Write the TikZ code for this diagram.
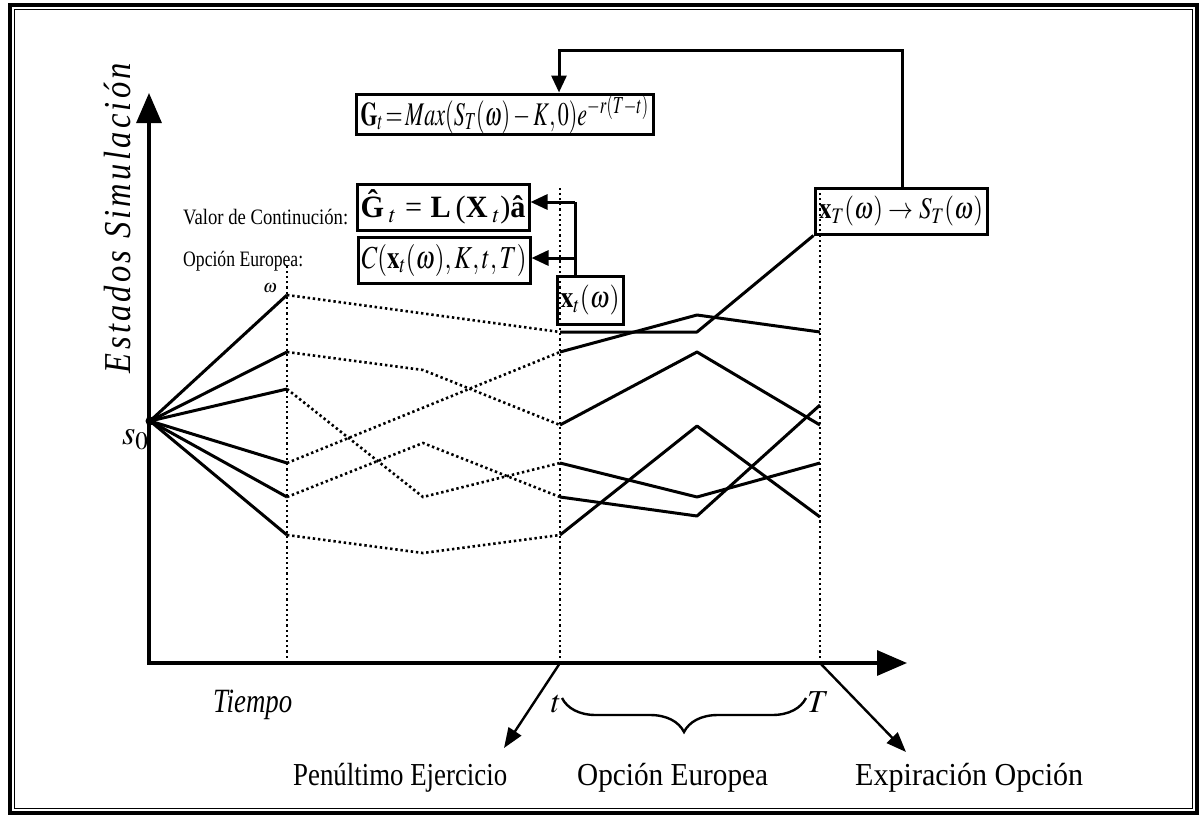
\documentclass[tikz,border=0pt]{standalone}
\usepackage{mathptmx}
\usepackage{fontspec}
\setmainfont{Liberation Serif}
\newfontfamily\spacedfont[LetterSpace=10]{Liberation Serif}
\usetikzlibrary{arrows.meta,decorations.pathreplacing}

% scale a piece of text horizontally so that it is #1 pt wide
\newlength\fitlen
\newcommand\fitto[2]{\settowidth{\fitlen}{#2}\pgfmathsetmacro\fitfac{#1/\fitlen}\scalebox{\fitfac}[1]{#2}}

\tikzset{
  walk/.style={line width=3pt, line join=round},
  dots/.style={line width=2.6pt, dash pattern=on 2.4pt off 2.8pt},
  vdots/.style={line width=2.4pt, dash pattern=on 2.2pt off 3pt},
  framebox/.style={draw, line width=3pt, inner sep=0pt},
  axes/.style={line width=3.2pt, {Triangle[length=30pt,width=25pt]}-{Triangle[length=30pt,width=25pt]}},
  feed/.style={line width=3pt, -{Triangle[length=17pt,width=15pt]}},
  pointer/.style={line width=2.4pt, -{Triangle[length=20pt,width=15pt]}},
  lbl/.style={inner sep=0pt},
}

\begin{document}
\begin{tikzpicture}[x=1pt,y=-1pt]
\useasboundingbox (0,0) rectangle (1204,819);

% double frame
\draw[line width=3.2pt] (10,5) rectangle (1197,813);
\draw[line width=1.6pt] (14.5,9.5) rectangle (1192.5,808.5);

% axes
\coordinate (O) at (149,663);
\coordinate (ytip) at (149,93);
\coordinate (xtip) at (907,663);
\draw[axes] (ytip) -- (O) -- (xtip);

% time marks
\draw[vdots] (287,663) -- (287,265);
\draw[vdots] (560,663) -- (560,187);
\draw[vdots] (820,663) -- (820,188);

% formula boxes
\node[framebox, minimum width=297pt, minimum height=40pt] (G) at (504.5,114)
  {\fontsize{33}{33}\selectfont\fitto{288}{$\mathbf{G}_t\!=\!Max(S_T(\omega)-K,0)e^{-r(T-t)}$}};
\node[framebox, minimum width=172pt, minimum height=46pt] (Gh) at (443,207)
  {\fontsize{31}{31}\selectfont\fitto{165}{\textbf{Ĝ}$_{\;t}$\;=\;\textbf{L}\,(\textbf{X}$_{\;t}$)\textbf{â}}};
\node[framebox, minimum width=172pt, minimum height=46pt] (C) at (444,260)
  {\fontsize{32}{32}\selectfont\fitto{165}{$C(\mathbf{x}_t(\omega),K,t,T)$}};
\node[framebox, minimum width=66pt, minimum height=48pt] (xt) at (590,300)
  {\fontsize{30}{30}\selectfont\fitto{59}{$\mathbf{x}_t(\omega)$}};
\node[framebox, minimum width=172pt, minimum height=46pt] (xT) at (901,211)
  {\fontsize{30}{30}\selectfont\fitto{164}{$\mathbf{x}_T(\omega)\rightarrow S_T(\omega)$}};

% feedback connectors
\coordinate (j1) at (575,202);
\coordinate (j2) at (575,258);
\draw[line width=3pt] (xt.north -| j1) -- (j1);
\draw[feed] (j1) -- (j1 -| Gh.east);
\draw[feed] (j2) -- (j2 -| C.east);
\coordinate (k1) at (902,50);
\coordinate (k2) at (559,50);
\draw[feed] (xT.north -| k1) -- (k1) -- (k2) -- (k2 |- G.north);

% simulated paths
\coordinate (s0) at (150,421);
\foreach \n/\y in {1/295,2/352,3/389,4/463,5/497,6/535} \coordinate (a\n) at (287,\y);
\foreach \n/\y in {1/332,2/352,3/425,4/463,5/497,6/535} \coordinate (b\n) at (560,\y);
\foreach \n/\y in {2/370,3/497,5/443,6/553} \coordinate (m\n) at (423,\y);
\foreach \n/\y in {1/332,2/315,3/352,4/497,5/516,6/426} \coordinate (n\n) at (697,\y);
\foreach \n/\y in {2/332,3/425,4/463,5/405,6/517} \coordinate (c\n) at (820,\y);

\foreach \n in {1,...,6} \draw[walk] (s0) -- (a\n);
\fill (s0) circle (4.5pt);

\draw[dots] (a1) -- (b1);
\draw[dots] (a2) -- (m2) -- (b3);
\draw[dots] (a3) -- (m3) -- (b4);
\draw[dots] (a4) -- (b2);
\draw[dots] (a5) -- (m5) -- (b5);
\draw[dots] (a6) -- (m6) -- (b6);

\draw[walk] (b1) -- (n1) -- (xT.south west);
\draw[walk] (b2) -- (n2) -- (c2);
\draw[walk] (b3) -- (n3) -- (c3);
\draw[walk] (b4) -- (n4) -- (c4);
\draw[walk] (b5) -- (n5) -- (c5);
\draw[walk] (b6) -- (n6) -- (c6);

% labels
\node[lbl, anchor=base west] (lval) at (183,224)
  {\fontsize{22}{22}\selectfont\fitto{165}{Valor de Continución:}};
\node[lbl, anchor=base west] (lopc) at (183,266)
  {\fontsize{22}{22}\selectfont\fitto{120}{Opción Europea:}};
\node[lbl] (om) at (270,288) {\fontsize{18}{18}\selectfont$\omega$};
\node[lbl, anchor=base west] (s0l) at (122,444) {\fontsize{34}{34}\selectfont$s_0$};
\node[lbl, rotate=90] (ylab) at (118,218)
  {\fontsize{38}{38}\selectfont\spacedfont\itshape\fitto{310}{Estados Simulación}};
\node[lbl, anchor=base west] (tiempo) at (213,712)
  {\fontsize{34}{34}\selectfont\itshape\fitto{79}{Tiempo}};
\node[lbl, anchor=base] (tl) at (556,712) {\fontsize{32}{32}\selectfont$t$};
\node[lbl, anchor=base] (Tl) at (818,712) {\fontsize{32}{32}\selectfont$T$};

% European option interval
\draw[line width=2.4pt, decorate, decoration={brace, amplitude=34pt, mirror}] (562,698) -- (806,698);

% pointers to the bottom captions
\coordinate (tA) at (560,663);
\coordinate (pentip) at (504,748);
\coordinate (TA) at (820,663);
\coordinate (exptip) at (906,752);
\draw[pointer] (tA) -- (pentip);
\draw[pointer] (TA) -- (exptip);

\node[lbl, anchor=base west] (pen) at (293,785)
  {\fontsize{32}{32}\selectfont\fitto{214}{Penúltimo Ejercicio}};
\node[lbl, anchor=base west] (euro) at (577,785)
  {\fontsize{32}{32}\selectfont\fitto{191}{Opción Europea}};
\node[lbl, anchor=base west] (expi) at (855,785)
  {\fontsize{32}{32}\selectfont\fitto{228}{Expiración Opción}};
\end{tikzpicture}
\end{document}
